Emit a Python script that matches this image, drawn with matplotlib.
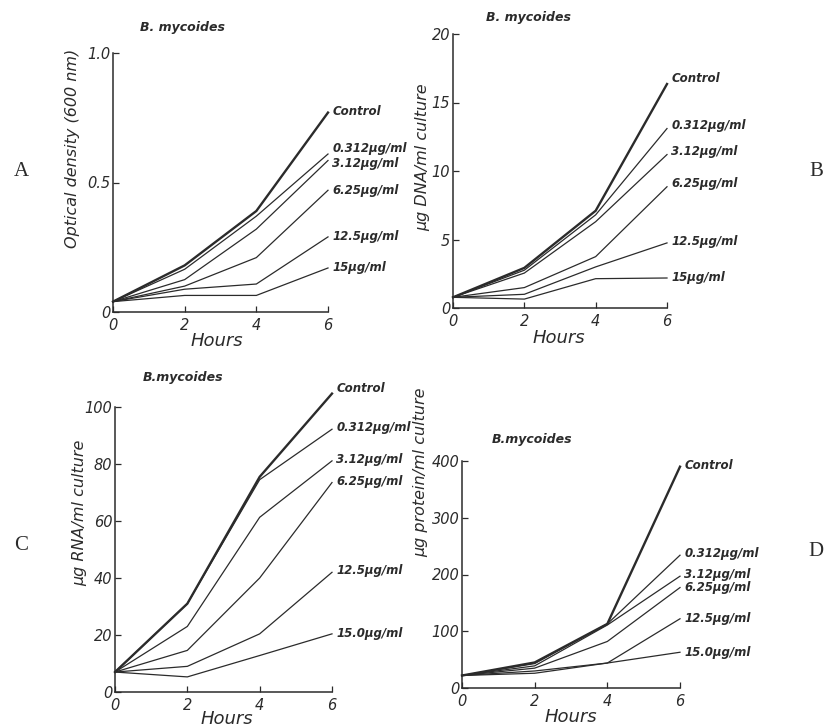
import matplotlib
matplotlib.use("Agg")
import matplotlib.pyplot as plt

# Zeitpunkte (Stunden)
hours = [0, 2, 4, 6]

# Panel A - Optische Dichte (600 nm)
labels_A = ['Control', '0.312µg/ml', '3.12µg/ml', '6.25µg/ml', '12.5µg/ml', '15µg/ml']
od_control = [0.04, 0.18, 0.39, 0.77]
od_0312 = [0.04, 0.165, 0.37, 0.61]
od_312 = [0.04, 0.125, 0.32, 0.585]
od_625 = [0.04, 0.10, 0.21, 0.47]
od_125 = [0.04, 0.088, 0.108, 0.29]
od_15 = [0.04, 0.064, 0.064, 0.17]

# Panel B - µg DNA/ml culture
labels_B = ['Control', '0.312µg/ml', '3.12µg/ml', '6.25µg/ml', '12.5µg/ml', '15µg/ml']
dna_control = [0.78, 2.93, 7.1, 16.35]
dna_0312 = [0.78, 2.76, 6.8, 13.1]
dna_312 = [0.78, 2.55, 6.3, 11.2]
dna_625 = [0.78, 1.49, 3.75, 8.85]
dna_125 = [0.78, 1.0, 3.0, 4.75]
dna_15 = [0.78, 0.65, 2.14, 2.19]

# Panel C - µg RNA/ml culture
labels_C = ['Control', '0.312µg/ml', '3.12µg/ml', '6.25µg/ml', '12.5µg/ml', '15.0µg/ml']
rna_control = [7.0, 31.0, 75.5, 104.7]
rna_0312 = [7.0, 31.0, 74.5, 92.2]
rna_312 = [7.0, 23.0, 61.3, 81.1]
rna_625 = [7.0, 14.6, 40.0, 73.5]
rna_125 = [7.0, 9.0, 20.4, 42.0]
rna_15 = [7.0, 5.3, 12.8, 20.4]

# Panel D - µg protein/ml culture
labels_D = ['Control', '0.312µg/ml', '3.12µg/ml', '6.25µg/ml', '12.5µg/ml', '15.0µg/ml']
prot_control = [22, 45, 113, 390]
prot_0312 = [22, 43, 113, 234]
prot_312 = [22, 39, 111, 197]
prot_625 = [22, 35, 82, 177]
prot_125 = [22, 30, 44, 122]
prot_15 = [22, 26, 44, 63]

W, H = 831, 728
ink = '#2b2b2b'

plt.rcParams['font.family'] = ['DejaVu Sans']
plt.rcParams['text.color'] = ink

fig = plt.figure(figsize=(W / 100, H / 100), dpi=100)
fig.patch.set_facecolor('white')


def px_axes(x0, x1, y_bottom, y_top):
    # Achse über Pixelkoordinaten anlegen (y von oben gemessen)
    return fig.add_axes([x0 / W, (H - y_bottom) / H, (x1 - x0) / W, (y_bottom - y_top) / H])


def panel(ax, series, labels, ylim, yticks, yticklabels, label_dy):
    for i, (vals, lab) in enumerate(zip(series, labels)):
        lw = 1.7 if i == 0 else 0.9
        ax.plot(hours, vals, color=ink, lw=lw, clip_on=False, solid_joinstyle='miter')
        ax.annotate(lab, xy=(hours[-1], vals[-1]), xytext=(3, label_dy[i]),
                    textcoords='offset points', va='center', ha='left', annotation_clip=False,
                    fontsize=8.5, fontstyle='italic', fontweight='bold', color=ink)
    ax.set_xlim(0, 6)
    ax.set_ylim(*ylim)
    ax.set_xticks(hours)
    ax.set_xticklabels([str(h) for h in hours], fontstyle='italic', fontsize=10.5)
    ax.set_yticks(yticks)
    ax.set_yticklabels(yticklabels, fontstyle='italic', fontsize=10.5)
    ax.tick_params(direction='in', length=4, width=0.9, colors=ink, pad=4)
    ax.tick_params(axis='y', pad=2)
    for s in ['top', 'right']:
        ax.spines[s].set_visible(False)
    for s in ['left', 'bottom']:
        ax.spines[s].set_color(ink)
        ax.spines[s].set_linewidth(1.1)
    ax.patch.set_alpha(0)


# Panel A
axA = px_axes(113, 328, 312, 53)
panel(axA, [od_control, od_0312, od_312, od_625, od_125, od_15], labels_A,
      (0, 1.0), [0, 0.5, 1.0], ['0', '0.5', '1.0'], [1, 4, -2, 0, 0, 0])

# Panel B
axB = px_axes(453, 667, 308, 34)
panel(axB, [dna_control, dna_0312, dna_312, dna_625, dna_125, dna_15], labels_B,
      (0, 20), [0, 5, 10, 15, 20], ['0', '5', '10', '15', '20'], [4, 2, 2, 2, 1, 0])

# Panel C
axC = px_axes(115, 332, 692, 407)
panel(axC, [rna_control, rna_0312, rna_312, rna_625, rna_125, rna_15], labels_C,
      (0, 100), [0, 20, 40, 60, 80, 100], ['0', '20', '40', '60', '80', '100'], [4, 1, 1, 1, 1, 0])

# Panel D
axD = px_axes(462, 680, 688, 461)
panel(axD, [prot_control, prot_0312, prot_312, prot_625, prot_125, prot_15], labels_D,
      (0, 400), [0, 100, 200, 300, 400], ['0', '100', '200', '300', '400'], [1, 1, 1, 0, 0, 0])

# Titel, Achsenbeschriftungen (Pixelkoordinaten)
def ftext(x, y, s, **kw):
    fig.text(x / W, 1 - y / H, s, **kw)


for x, y, t in [(183, 27, 'B. mycoides'), (528, 17, 'B. mycoides'),
                (183, 377, 'B.mycoides'), (532, 439, 'B.mycoides')]:
    ftext(x, y, t, ha='center', va='center', fontsize=9, fontstyle='italic', fontweight='bold')

for x, y in [(217, 341), (559, 338), (227, 719), (571, 717)]:
    ftext(x, y, 'Hours', ha='center', va='center', fontsize=13, fontstyle='italic')

for x, y, t in [(72, 148, 'Optical density (600 nm)'), (423, 157, 'µg DNA/ml culture'),
                (80, 513, 'µg RNA/ml culture'), (421, 472, 'µg protein/ml culture')]:
    ftext(x, y, t, ha='center', va='center', rotation=90, fontsize=11.5, fontstyle='italic')

for x, y, t in [(21, 171, 'A'), (816, 171, 'B'), (21, 546, 'C'), (816, 551, 'D')]:
    ftext(x, y, t, ha='center', va='center', fontsize=15, family='Liberation Serif')

fig.savefig('out.png', dpi=100, facecolor='white')
